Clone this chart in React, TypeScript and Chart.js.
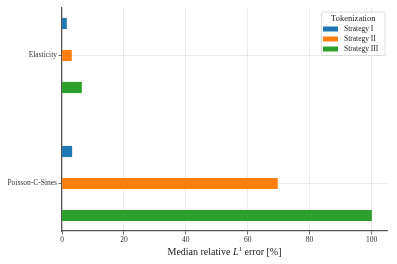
import React, { useEffect, useRef } from 'react';
import { Chart, registerables } from 'chart.js';
Chart.register(...registerables);

const categories = ['Elasticity', 'Poisson-C-Sines'];
const seriesNames = ['Strategy I', 'Strategy II', 'Strategy III'];
const strategy1 = [1.45, 3.17];
const strategy2 = [3.05, 69.6];
const strategy3 = [6.3, 100];
const xTicks = [0, 20, 40, 60, 80, 100];
const colors = ['#1f77b4', '#ff7f0e', '#2ca02c'];
const legendTitle = 'Tokenization';

const FONT = "'Liberation Serif', 'DejaVu Serif', serif";

export default function App() {
  const ref = useRef<HTMLCanvasElement | null>(null);
  useEffect(() => {
    document.body.style.margin = '0';
    const canvas = ref.current;
    if (!canvas) return;
    const series = [strategy1, strategy2, strategy3];
    const offsets = [-0.25, 0, 0.25];
    const datasets = series.map((vals, d) => ({
      label: seriesNames[d],
      data: vals.map((v, i) => ({ x: v, y: i + offsets[d] })),
      backgroundColor: colors[d],
      borderWidth: 0,
      barThickness: 10.5,
      grouped: false,
    }));

    const legendPlugin = {
      id: 'innerLegend',
      afterDraw(chart: any) {
        const ctx = chart.ctx;
        const ca = chart.chartArea;
        const w = 63.5, h = 43.5;
        const left = ca.right - 2 - w;
        const top = ca.top + 4;
        ctx.save();
        ctx.beginPath();
        const r = 2;
        ctx.moveTo(left + r, top);
        ctx.lineTo(left + w - r, top);
        ctx.quadraticCurveTo(left + w, top, left + w, top + r);
        ctx.lineTo(left + w, top + h - r);
        ctx.quadraticCurveTo(left + w, top + h, left + w - r, top + h);
        ctx.lineTo(left + r, top + h);
        ctx.quadraticCurveTo(left, top + h, left, top + h - r);
        ctx.lineTo(left, top + r);
        ctx.quadraticCurveTo(left, top, left + r, top);
        ctx.closePath();
        ctx.fillStyle = 'rgba(255,255,255,0.8)';
        ctx.fill();
        ctx.strokeStyle = '#d6d6d6';
        ctx.lineWidth = 0.8;
        ctx.stroke();
        ctx.fillStyle = '#222';
        ctx.textBaseline = 'middle';
        ctx.textAlign = 'center';
        ctx.font = `8.5px ${FONT}`;
        ctx.fillText(legendTitle, left + w / 2, top + 7.2);
        ctx.textAlign = 'left';
        ctx.font = `7.5px ${FONT}`;
        seriesNames.forEach((name, i) => {
          const cy = top + 17 + i * 10;
          ctx.fillStyle = colors[i];
          ctx.fillRect(left + 1.5, cy - 2.5, 15, 5);
          ctx.fillStyle = '#222';
          ctx.fillText(name, left + 22.5, cy + 0.5);
        });
        ctx.restore();
      },
    };

    const titlePlugin = {
      id: 'xTitle',
      afterDraw(chart: any) {
        const ctx = chart.ctx;
        const ca = chart.chartArea;
        const parts = [
          { t: 'Median relative ', f: `10px ${FONT}`, dy: 0 },
          { t: 'L', f: `italic 10px ${FONT}`, dy: 0 },
          { t: '1', f: `7px ${FONT}`, dy: -4 },
          { t: ' error [%]', f: `10px ${FONT}`, dy: 0 },
        ];
        ctx.save();
        let total = 0;
        parts.forEach((p) => {
          ctx.font = p.f;
          total += ctx.measureText(p.t).width;
        });
        let x = (ca.left + ca.right) / 2 - total / 2;
        const y = 255;
        ctx.fillStyle = '#222';
        ctx.textBaseline = 'alphabetic';
        ctx.textAlign = 'left';
        parts.forEach((p) => {
          ctx.font = p.f;
          ctx.fillText(p.t, x, y + p.dy);
          x += ctx.measureText(p.t).width;
        });
        ctx.restore();
      },
    };

    const chart = new Chart(canvas, {
      type: 'bar',
      data: { datasets },
      options: {
        responsive: false,
        animation: false,
        indexAxis: 'y',
        layout: { padding: { top: 8, right: 10, left: 0, bottom: 0 } },
        plugins: {
          legend: { display: false },
          tooltip: { enabled: false },
        },
        scales: {
          x: {
            type: 'linear',
            min: 0,
            max: 105,
            afterBuildTicks: (scale: any) => {
              scale.ticks = xTicks.map((v) => ({ value: v }));
            },
            afterFit: (scale: any) => {
              scale.height = 33;
            },
            grid: {
              color: '#e4e4e4',
              lineWidth: 0.8,
              tickColor: '#444',
              tickLength: 3.5,
              tickWidth: 0.8,
            },
            border: { color: '#555', width: 1.2 },
            ticks: {
              color: '#333',
              font: { family: FONT, size: 7.5 },
              padding: 1,
              maxRotation: 0,
            },
          },
          y: {
            type: 'linear',
            reverse: true,
            offset: false,
            min: -0.371,
            max: 1.371,
            afterBuildTicks: (scale: any) => {
              scale.ticks = categories.map((_, i) => ({ value: i }));
            },
            afterFit: (scale: any) => {
              scale.width = 62;
            },
            grid: {
              offset: false,
              color: '#e4e4e4',
              lineWidth: 0.8,
              tickColor: '#444',
              tickLength: 3.5,
              tickWidth: 0.8,
            },
            border: { color: '#555', width: 1.2 },
            ticks: {
              color: '#333',
              font: { family: FONT, size: 7.5 },
              padding: 1.5,
              callback: (v: any) => categories[Math.round(Number(v))] ?? '',
            },
          },
        },
      },
      plugins: [legendPlugin, titlePlugin],
    });
    return () => chart.destroy();
  }, []);
  return <canvas ref={ref} width={397} height={264} style={{ display: 'block' }} />;
}
